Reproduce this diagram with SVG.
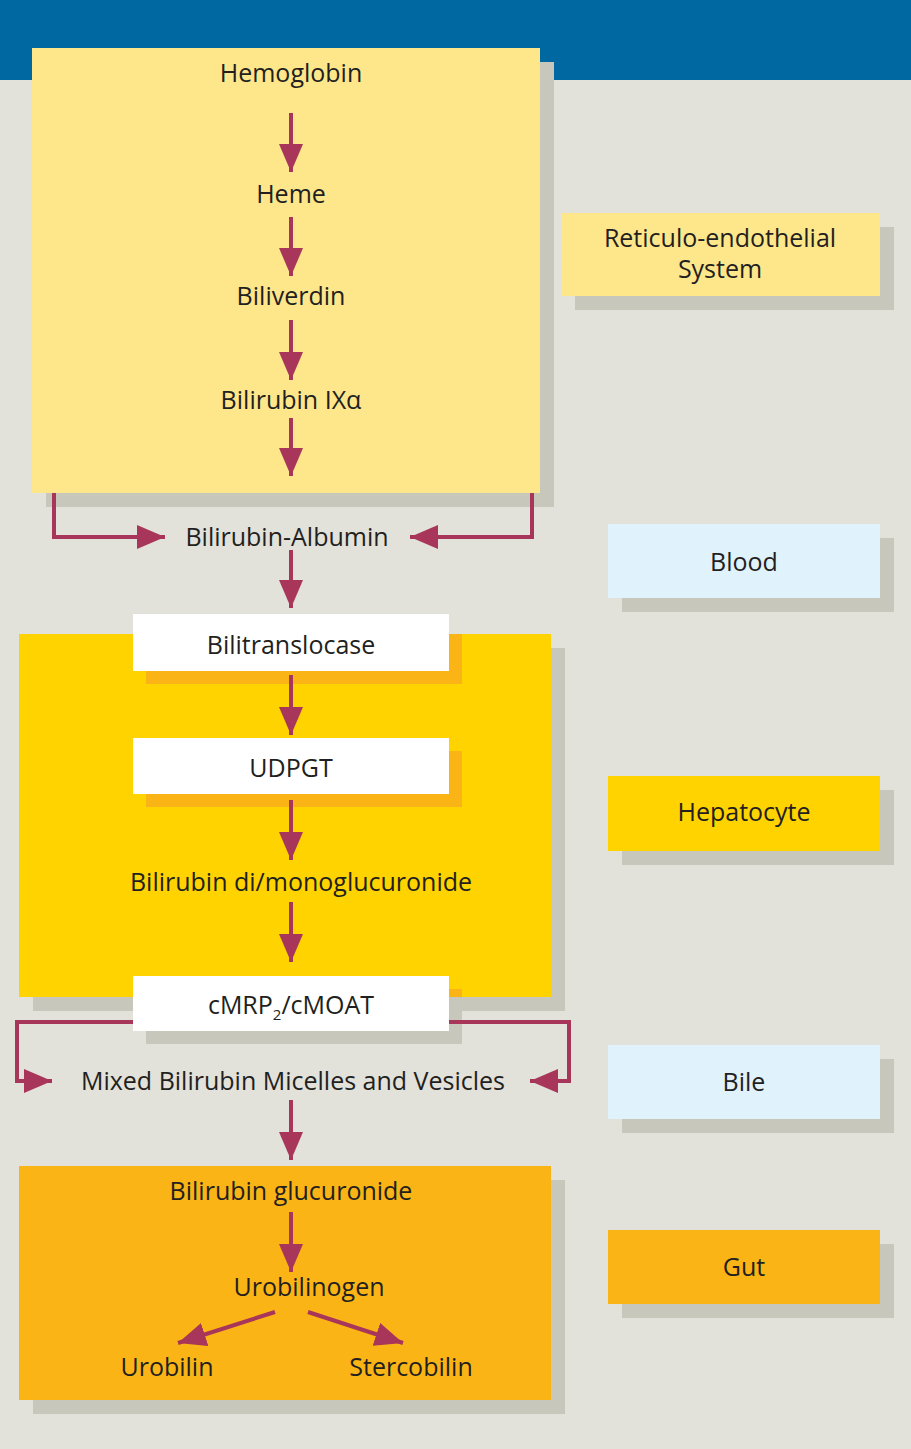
<svg xmlns="http://www.w3.org/2000/svg" width="911" height="1449" viewBox="0 0 911 1449">
<style>
text{font-family:"Open Sans","Liberation Sans",sans-serif;font-size:25px;fill:#231f20;text-anchor:middle}
.sh{fill:#c8c7bb}
.c{fill:none;stroke:#a8365a;stroke-width:4}
</style>
<defs>
<marker id="ah" markerUnits="userSpaceOnUse" markerWidth="30" markerHeight="24" refX="28" refY="12" orient="auto" viewBox="0 0 30 24">
<path d="M0,0 L28,12 L0,24 Z" fill="#a8365a"/>
</marker>
</defs>
<rect width="911" height="1449" fill="#e2e1da"/>
<rect width="911" height="80" fill="#0068a0"/>
<g id="res"><rect class="sh" x="46" y="62" width="508" height="445"/><rect x="32" y="48" width="508" height="445" fill="#fee68b"/>
<text x="291" y="82">Hemoglobin</text><text x="291" y="203">Heme</text><text x="291" y="305">Biliverdin</text><text x="291" y="409">Bilirubin IXα</text></g>
<g id="hep"><rect class="sh" x="33" y="648" width="532" height="363"/><rect x="19" y="634" width="532" height="363" fill="#ffd300"/>
<text x="301" y="891">Bilirubin di/monoglucuronide</text></g>
<g id="gut"><rect class="sh" x="33" y="1180" width="532" height="234"/><rect x="19" y="1166" width="532" height="234" fill="#fbb416"/>
<text x="291" y="1200">Bilirubin glucuronide</text><text x="309" y="1296">Urobilinogen</text><text x="167" y="1376">Urobilin</text><text x="411" y="1376">Stercobilin</text></g>
<g id="albumin"><text x="287" y="546">Bilirubin-Albumin</text></g>
<g id="bilitrans"><rect x="146" y="634" width="316" height="50" fill="#fbb416"/><rect x="133" y="614" width="316" height="57" fill="#fff"/><text x="291" y="654">Bilitranslocase</text></g>
<g id="udpgt"><rect x="146" y="751" width="316" height="56" fill="#fbb416"/><rect x="133" y="738" width="316" height="56" fill="#fff"/><text x="291" y="777">UDPGT</text></g>
<g id="cmrp"><rect class="sh" x="146" y="989" width="316" height="55"/><rect x="146" y="989" width="316" height="8" fill="#fbb416"/><rect x="133" y="976" width="316" height="55" fill="#fff"/><text x="291" y="1014">cMRP<tspan font-size="15" dy="6">2</tspan><tspan dy="-6">/cMOAT</tspan></text></g>
<g id="mixed"><text x="293" y="1090">Mixed Bilirubin Micelles and Vesicles</text></g>
<g id="leg-res"><rect class="sh" x="575" y="227" width="319" height="83"/><rect x="561" y="213" width="319" height="83" fill="#fee68b"/><text x="720" y="247">Reticulo-endothelial</text><text x="720" y="278">System</text></g>
<g id="leg-blood"><rect class="sh" x="622" y="538" width="272" height="74"/><rect x="608" y="524" width="272" height="74" fill="#e0f2fb"/><text x="744" y="571">Blood</text></g>
<g id="leg-hep"><rect class="sh" x="622" y="790" width="272" height="75"/><rect x="608" y="776" width="272" height="75" fill="#ffd300"/><text x="744" y="821">Hepatocyte</text></g>
<g id="leg-bile"><rect class="sh" x="622" y="1059" width="272" height="74"/><rect x="608" y="1045" width="272" height="74" fill="#e0f2fb"/><text x="744" y="1091">Bile</text></g>
<g id="leg-gut"><rect class="sh" x="622" y="1244" width="272" height="74"/><rect x="608" y="1230" width="272" height="74" fill="#fbb416"/><text x="744" y="1276">Gut</text></g>
<g id="connectors">
<path class="c" marker-end="url(#ah)" d="M291,113 V172"/>
<path class="c" marker-end="url(#ah)" d="M291,217 V276"/>
<path class="c" marker-end="url(#ah)" d="M291,320 V380"/>
<path class="c" marker-end="url(#ah)" d="M291,418 V476"/>
<path class="c" marker-end="url(#ah)" d="M291,550 V608"/>
<path class="c" marker-end="url(#ah)" d="M291,675 V735"/>
<path class="c" marker-end="url(#ah)" d="M291,800 V860"/>
<path class="c" marker-end="url(#ah)" d="M291,902 V962"/>
<path class="c" marker-end="url(#ah)" d="M291,1100 V1160"/>
<path class="c" marker-end="url(#ah)" d="M291,1212 V1272"/>
<path class="c" marker-end="url(#ah)" d="M54,493 V537 H165"/>
<path class="c" marker-end="url(#ah)" d="M532,493 V537 H410"/>
<path class="c" marker-end="url(#ah)" d="M133,1022 H17 V1081 H52"/>
<path class="c" marker-end="url(#ah)" d="M449,1022 H569 V1081 H530"/>
<path class="c" marker-end="url(#ah)" d="M275,1312 L178,1343"/>
<path class="c" marker-end="url(#ah)" d="M308,1312 L403,1343"/>
</g>
</svg>
